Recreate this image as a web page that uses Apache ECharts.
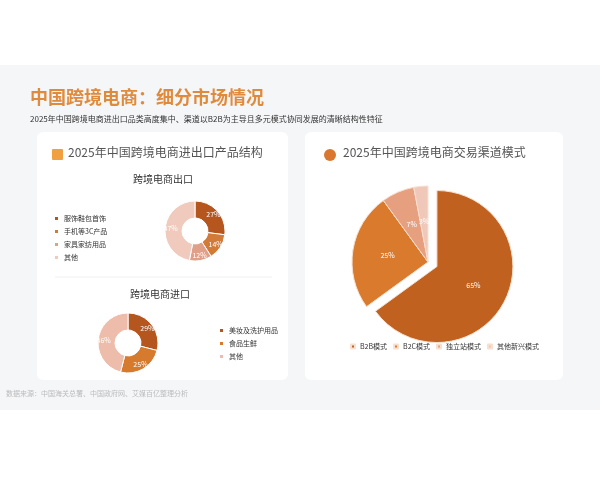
<!DOCTYPE html>
<html><head><meta charset="utf-8">
<script src="https://cdn.jsdelivr.net/npm/echarts@6/dist/echarts.min.js"></script>
<style>html,body{margin:0;padding:0;background:#fff}#c{width:600px;height:480px}</style>
</head><body><div id="c"></div>
<script>
const exportCats = ['服饰鞋包首饰', '手机等3C产品', '家具家纺用品', '其他'];
const exportVals = [27, 14, 12, 47];
const importCats = ['美妆及洗护用品', '食品生鲜', '其他 '];
const importVals = [29, 25, 46];
const channelCats = ['B2B模式', 'B2C模式', '独立站模式', '其他新兴模式'];
const channelVals = [65, 25, 7, 3];

const c4 = ['#b5561f', '#d27a38', '#e0a088', '#f0cbbd'];
const c3 = ['#b5561f', '#d67a2e', '#eebcaa'];
const cc = ['#c0611f', '#d97a2c', '#e6a080', '#efc8ba'];

const font = 'Noto Sans CJK SC';
const chart = echarts.init(document.getElementById('c'));

const toData = (cats, vals, cols) => cats.map((n, i) => ({ name: n, value: vals[i], itemStyle: { color: cols[i] } }));
const donutLabel = { show: true, position: 'inside', formatter: '{c}%', color: '#fff', fontSize: 7, fontFamily: font };
const channelData = toData(channelCats, channelVals, cc);
channelData[0].selected = true;

chart.setOption({
  backgroundColor: '#fff',
  textStyle: { fontFamily: font },
  graphic: [
    { type: 'rect', shape: { x: 0, y: 65, width: 600, height: 345 }, style: { fill: '#f5f6f8' }, z: -10 },
    { type: 'rect', shape: { x: 37, y: 132, width: 251, height: 248, r: 6 }, style: { fill: '#fff' }, z: -5 },
    { type: 'rect', shape: { x: 305, y: 132, width: 258, height: 248, r: 6 }, style: { fill: '#fff' }, z: -5 },
    { type: 'text', left: 30, top: 88, style: { text: '中国跨境电商：细分市场情况', fill: '#e08a3c', font: 'bold 18px ' + font } },
    { type: 'text', left: 30, top: 115, style: { text: '2025年中国跨境电商进出口品类高度集中、渠道以B2B为主导且多元模式协同发展的清晰结构性特征', fill: '#333', font: '8px ' + font } },
    { type: 'rect', shape: { x: 52, y: 149, width: 11, height: 11, r: 1 }, style: { fill: '#f0a040' } },
    { type: 'text', left: 68, top: 146, style: { text: '2025年中国跨境电商进出口产品结构', fill: '#555', font: '12px ' + font } },
    { type: 'circle', shape: { cx: 330, cy: 155, r: 6 }, style: { fill: '#d9772e' } },
    { type: 'text', left: 343, top: 146, style: { text: '2025年中国跨境电商交易渠道模式', fill: '#555', font: '12px ' + font } },
    { type: 'text', left: 133, top: 174, style: { text: '跨境电商出口', fill: '#333', font: '10px ' + font } },
    { type: 'text', left: 130, top: 289, style: { text: '跨境电商进口', fill: '#333', font: '10px ' + font } },
    { type: 'line', shape: { x1: 55, y1: 277, x2: 272, y2: 277 }, style: { stroke: '#f0f0f0', lineWidth: 1 } },
    { type: 'text', left: 6, top: 390, style: { text: '数据来源：中国海关总署、中国政府网、艾媒百亿整理分析', fill: '#bbb', font: '7px ' + font } }
  ],
  legend: [
    { data: exportCats.map(n => ({ name: n, icon: 'rect' })), orient: 'vertical', left: 48, top: 210, itemWidth: 5, itemHeight: 5, itemGap: 6, textStyle: { fontSize: 7, color: '#333' } },
    { data: importCats.map(n => ({ name: n, icon: 'rect' })), orient: 'vertical', left: 213, top: 322, itemWidth: 5, itemHeight: 5, itemGap: 6, textStyle: { fontSize: 7, color: '#333' } },
    { data: channelCats.map(n => ({ name: n, icon: 'rect' })), orient: 'horizontal', left: 345, top: 338, itemWidth: 4, itemHeight: 4, itemGap: 6, textStyle: { fontSize: 7, color: '#333' } }
  ],
  series: [
    { type: 'pie', center: [195, 231], radius: [13, 30], startAngle: 90, data: toData(exportCats, exportVals, c4), label: donutLabel, labelLine: { show: false },
      itemStyle: { borderColor: '#fff', borderWidth: 1 } },
    { type: 'pie', center: [128, 343], radius: [13, 30], startAngle: 90, data: toData(importCats, importVals, c3), label: donutLabel, labelLine: { show: false },
      itemStyle: { borderColor: '#fff', borderWidth: 1 } },
    { type: 'pie', center: [428, 262], radius: [0, 76], startAngle: 90, selectedMode: 'single', selectedOffset: 10,
      data: channelData,
      label: { show: true, position: 'inside', formatter: '{c}%', color: '#fff', fontSize: 7 }, labelLine: { show: false },
      itemStyle: { borderColor: '#f7e0d0', borderWidth: 1 } }
  ]
});
</script></body></html>
